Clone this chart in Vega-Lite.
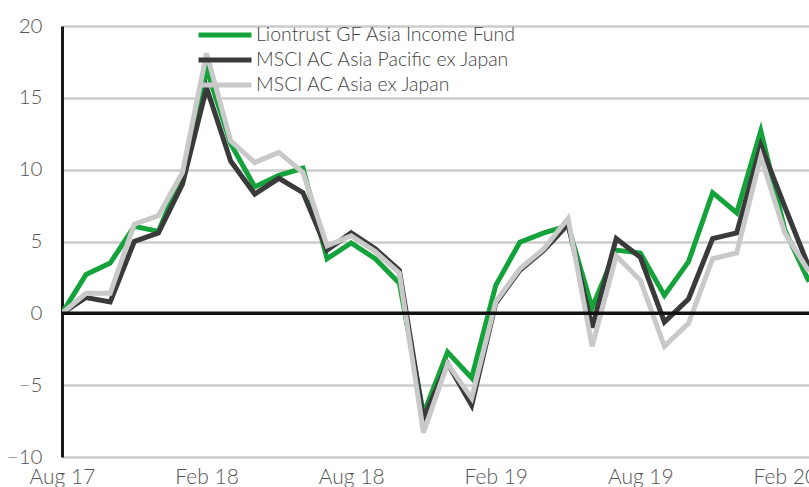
{
  "$schema": "https://vega.github.io/schema/vega-lite/v6.json",
  "width": 747,
  "height": 431,
  "autosize": "none",
  "padding": {"left": 62, "top": 26, "right": 0, "bottom": 30},
  "background": "white",
  "config": {
    "view": {"stroke": null},
    "font": "Lato",
    "axis": {"labelFont": "Lato", "labelFontWeight": 300}
  },
  "datasets": {
    "series": [
      {"month":"Aug 17","series":"Liontrust GF Asia Income Fund","value":0},
      {"month":"Sep 17","series":"Liontrust GF Asia Income Fund","value":2.7},
      {"month":"Oct 17","series":"Liontrust GF Asia Income Fund","value":3.5},
      {"month":"Nov 17","series":"Liontrust GF Asia Income Fund","value":6.05},
      {"month":"Dec 17","series":"Liontrust GF Asia Income Fund","value":5.7},
      {"month":"Jan 18","series":"Liontrust GF Asia Income Fund","value":9.7},
      {"month":"Feb 18","series":"Liontrust GF Asia Income Fund","value":17.0},
      {"month":"Mar 18","series":"Liontrust GF Asia Income Fund","value":11.8},
      {"month":"Apr 18","series":"Liontrust GF Asia Income Fund","value":8.8},
      {"month":"May 18","series":"Liontrust GF Asia Income Fund","value":9.6},
      {"month":"Jun 18","series":"Liontrust GF Asia Income Fund","value":10.1},
      {"month":"Jul 18","series":"Liontrust GF Asia Income Fund","value":3.8},
      {"month":"Aug 18","series":"Liontrust GF Asia Income Fund","value":4.9},
      {"month":"Sep 18","series":"Liontrust GF Asia Income Fund","value":3.8},
      {"month":"Oct 18","series":"Liontrust GF Asia Income Fund","value":2.1},
      {"month":"Nov 18","series":"Liontrust GF Asia Income Fund","value":-7.0},
      {"month":"Dec 18","series":"Liontrust GF Asia Income Fund","value":-2.7},
      {"month":"Jan 19","series":"Liontrust GF Asia Income Fund","value":-4.5},
      {"month":"Feb 19","series":"Liontrust GF Asia Income Fund","value":1.95},
      {"month":"Mar 19","series":"Liontrust GF Asia Income Fund","value":4.95},
      {"month":"Apr 19","series":"Liontrust GF Asia Income Fund","value":5.6},
      {"month":"May 19","series":"Liontrust GF Asia Income Fund","value":6.1},
      {"month":"Jun 19","series":"Liontrust GF Asia Income Fund","value":0.4},
      {"month":"Jul 19","series":"Liontrust GF Asia Income Fund","value":4.4},
      {"month":"Aug 19","series":"Liontrust GF Asia Income Fund","value":4.2},
      {"month":"Sep 19","series":"Liontrust GF Asia Income Fund","value":1.25},
      {"month":"Oct 19","series":"Liontrust GF Asia Income Fund","value":3.6},
      {"month":"Nov 19","series":"Liontrust GF Asia Income Fund","value":8.4},
      {"month":"Dec 19","series":"Liontrust GF Asia Income Fund","value":7.0},
      {"month":"Jan 20","series":"Liontrust GF Asia Income Fund","value":12.7},
      {"month":"Feb 20","series":"Liontrust GF Asia Income Fund","value":5.8},
      {"month":"Mar 20","series":"Liontrust GF Asia Income Fund","value":2.2},
      {"month":"Aug 17","series":"MSCI AC Asia Pacific ex  Japan","value":0},
      {"month":"Sep 17","series":"MSCI AC Asia Pacific ex  Japan","value":1.1},
      {"month":"Oct 17","series":"MSCI AC Asia Pacific ex  Japan","value":0.8},
      {"month":"Nov 17","series":"MSCI AC Asia Pacific ex  Japan","value":5.0},
      {"month":"Dec 17","series":"MSCI AC Asia Pacific ex  Japan","value":5.6},
      {"month":"Jan 18","series":"MSCI AC Asia Pacific ex  Japan","value":9.0},
      {"month":"Feb 18","series":"MSCI AC Asia Pacific ex  Japan","value":15.7},
      {"month":"Mar 18","series":"MSCI AC Asia Pacific ex  Japan","value":10.6},
      {"month":"Apr 18","series":"MSCI AC Asia Pacific ex  Japan","value":8.3},
      {"month":"May 18","series":"MSCI AC Asia Pacific ex  Japan","value":9.4},
      {"month":"Jun 18","series":"MSCI AC Asia Pacific ex  Japan","value":8.4},
      {"month":"Jul 18","series":"MSCI AC Asia Pacific ex  Japan","value":4.4},
      {"month":"Aug 18","series":"MSCI AC Asia Pacific ex  Japan","value":5.6},
      {"month":"Sep 18","series":"MSCI AC Asia Pacific ex  Japan","value":4.5},
      {"month":"Oct 18","series":"MSCI AC Asia Pacific ex  Japan","value":3.0},
      {"month":"Nov 18","series":"MSCI AC Asia Pacific ex  Japan","value":-7.3},
      {"month":"Dec 18","series":"MSCI AC Asia Pacific ex  Japan","value":-3.5},
      {"month":"Jan 19","series":"MSCI AC Asia Pacific ex  Japan","value":-6.4},
      {"month":"Feb 19","series":"MSCI AC Asia Pacific ex  Japan","value":0.7},
      {"month":"Mar 19","series":"MSCI AC Asia Pacific ex  Japan","value":3.0},
      {"month":"Apr 19","series":"MSCI AC Asia Pacific ex  Japan","value":4.4},
      {"month":"May 19","series":"MSCI AC Asia Pacific ex  Japan","value":6.2},
      {"month":"Jun 19","series":"MSCI AC Asia Pacific ex  Japan","value":-1.0},
      {"month":"Jul 19","series":"MSCI AC Asia Pacific ex  Japan","value":5.2},
      {"month":"Aug 19","series":"MSCI AC Asia Pacific ex  Japan","value":3.9},
      {"month":"Sep 19","series":"MSCI AC Asia Pacific ex  Japan","value":-0.6},
      {"month":"Oct 19","series":"MSCI AC Asia Pacific ex  Japan","value":1.0},
      {"month":"Nov 19","series":"MSCI AC Asia Pacific ex  Japan","value":5.2},
      {"month":"Dec 19","series":"MSCI AC Asia Pacific ex  Japan","value":5.6},
      {"month":"Jan 20","series":"MSCI AC Asia Pacific ex  Japan","value":11.7},
      {"month":"Feb 20","series":"MSCI AC Asia Pacific ex  Japan","value":7.4},
      {"month":"Mar 20","series":"MSCI AC Asia Pacific ex  Japan","value":3.2},
      {"month":"Aug 17","series":"MSCI AC Asia ex Japan","value":0},
      {"month":"Sep 17","series":"MSCI AC Asia ex Japan","value":1.4},
      {"month":"Oct 17","series":"MSCI AC Asia ex Japan","value":1.4},
      {"month":"Nov 17","series":"MSCI AC Asia ex Japan","value":6.2},
      {"month":"Dec 17","series":"MSCI AC Asia ex Japan","value":6.8},
      {"month":"Jan 18","series":"MSCI AC Asia ex Japan","value":9.8},
      {"month":"Feb 18","series":"MSCI AC Asia ex Japan","value":18.1},
      {"month":"Mar 18","series":"MSCI AC Asia ex Japan","value":12.0},
      {"month":"Apr 18","series":"MSCI AC Asia ex Japan","value":10.5},
      {"month":"May 18","series":"MSCI AC Asia ex Japan","value":11.2},
      {"month":"Jun 18","series":"MSCI AC Asia ex Japan","value":9.8},
      {"month":"Jul 18","series":"MSCI AC Asia ex Japan","value":4.7},
      {"month":"Aug 18","series":"MSCI AC Asia ex Japan","value":5.4},
      {"month":"Sep 18","series":"MSCI AC Asia ex Japan","value":4.3},
      {"month":"Oct 18","series":"MSCI AC Asia ex Japan","value":2.8},
      {"month":"Nov 18","series":"MSCI AC Asia ex Japan","value":-8.3},
      {"month":"Dec 18","series":"MSCI AC Asia ex Japan","value":-3.5},
      {"month":"Jan 19","series":"MSCI AC Asia ex Japan","value":-5.9},
      {"month":"Feb 19","series":"MSCI AC Asia ex Japan","value":0.8},
      {"month":"Mar 19","series":"MSCI AC Asia ex Japan","value":3.1},
      {"month":"Apr 19","series":"MSCI AC Asia ex Japan","value":4.5},
      {"month":"May 19","series":"MSCI AC Asia ex Japan","value":6.6},
      {"month":"Jun 19","series":"MSCI AC Asia ex Japan","value":-2.3},
      {"month":"Jul 19","series":"MSCI AC Asia ex Japan","value":4.0},
      {"month":"Aug 19","series":"MSCI AC Asia ex Japan","value":2.3},
      {"month":"Sep 19","series":"MSCI AC Asia ex Japan","value":-2.3},
      {"month":"Oct 19","series":"MSCI AC Asia ex Japan","value":-0.7},
      {"month":"Nov 19","series":"MSCI AC Asia ex Japan","value":3.8},
      {"month":"Dec 19","series":"MSCI AC Asia ex Japan","value":4.2},
      {"month":"Jan 20","series":"MSCI AC Asia ex Japan","value":10.9},
      {"month":"Feb 20","series":"MSCI AC Asia ex Japan","value":5.6},
      {"month":"Mar 20","series":"MSCI AC Asia ex Japan","value":2.9}
    ]
  },
  "layer": [
    {
      "data": {"name": "series"},
      "mark": {"type": "line", "strokeWidth": 5, "strokeJoin": "miter", "clip": true},
      "encoding": {
        "x": {
          "field": "month", "type": "ordinal", "sort": null,
          "scale": {"type": "point", "padding": 0},
          "axis": {
            "values": ["Aug 17","Feb 18","Aug 18","Feb 19","Aug 19","Feb 20"],
            "title": null, "domain": false, "ticks": false, "grid": false,
            "labelAngle": 0, "labelFontSize": 21, "labelColor": "#555555",
            "labelPadding": 9, "labelOverlap": false, "labelFlush": false
          }
        },
        "y": {
          "field": "value", "type": "quantitative",
          "scale": {"domain": [-10, 20], "nice": false, "zero": false},
          "axis": {
            "values": [-10, -5, 0, 5, 10, 15, 20],
            "title": null, "domain": true, "domainColor": "#1a1a1a", "domainWidth": 3,
            "ticks": false, "grid": true, "gridColor": "#cccccc", "gridWidth": 2.5,
            "labelFontSize": 20.5, "labelColor": "#555555", "labelPadding": 20
          }
        },
        "color": {
          "field": "series", "type": "nominal",
          "scale": {
            "domain": ["Liontrust GF Asia Income Fund", "MSCI AC Asia Pacific ex  Japan", "MSCI AC Asia ex Japan"],
            "range": ["#14a33a", "#3a3a3a", "#c9c9c9"]
          },
          "legend": {
            "title": null, "orient": "none", "legendX": 134, "legendY": 0,
            "padding": 0, "symbolType": "stroke", "symbolSize": 2809, "symbolStrokeWidth": 5,
            "clipHeight": 18,
            "labelFontSize": 19.5, "labelColor": "#444444", "labelFont": "Lato", "labelFontWeight": 300,
            "rowPadding": 5, "labelOffset": 2, "labelLimit": 400
          }
        }
      }
    },
    {
      "data": {"values": [{"y": 0}]},
      "mark": {"type": "rule", "color": "#111111", "strokeWidth": 3.5},
      "encoding": {"y": {"field": "y", "type": "quantitative"}}
    }
  ]
}
